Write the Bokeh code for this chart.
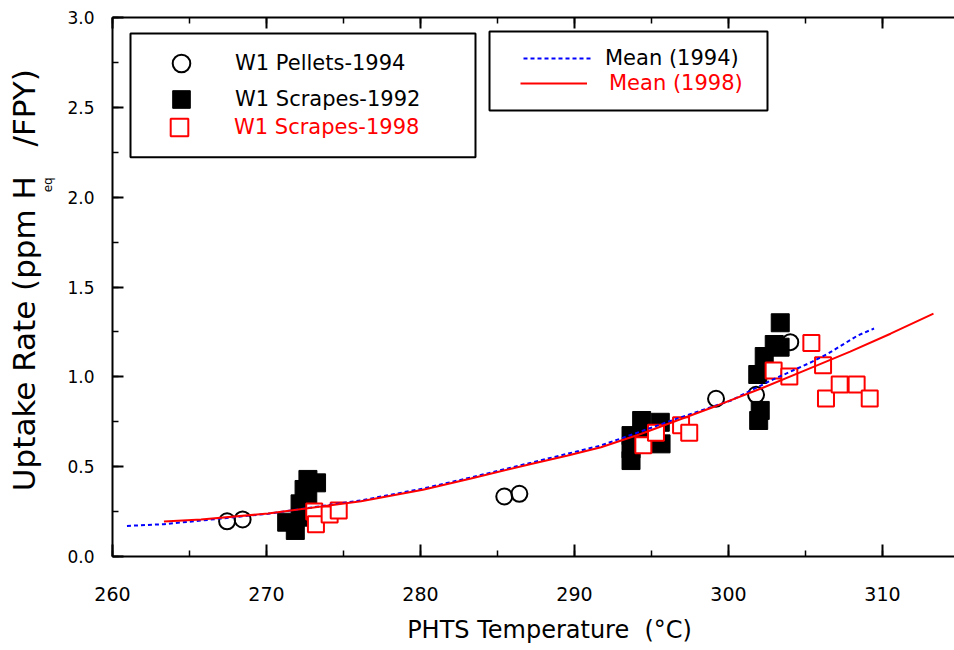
from bokeh.plotting import figure
from bokeh.models import (Range1d, LinearAxis, SingleIntervalTicker, FixedTicker,
                          PrintfTickFormatter, CustomJSTickFormatter,
                          Legend, LegendItem, BoxAnnotation)
from bokeh.embed import file_html
from bokeh.resources import INLINE

# ---------------- data ----------------
pellets_1994_temp = [267.44, 268.45, 285.44, 286.42, 299.19, 301.79, 304.01]
pellets_1994_rate = [0.196, 0.206, 0.334, 0.349, 0.878, 0.900, 1.193]

scrapes_1992_temp = [271.31, 271.87, 272.18, 272.24, 272.44, 272.68, 272.69, 273.25,
                     293.67, 293.67, 293.67, 294.36, 294.75, 295.57, 295.62,
                     301.90, 302.06, 301.96, 302.32, 302.97, 303.35, 303.36]
scrapes_1992_rate = [0.191, 0.145, 0.293, 0.219, 0.373, 0.312, 0.429, 0.410,
                     0.534, 0.599, 0.673, 0.757, 0.683, 0.747, 0.627,
                     1.013, 0.813, 0.757, 1.113, 1.180, 1.165, 1.301]

scrapes_1998_temp = [273.10, 273.21, 274.10, 274.69, 294.47, 295.29, 296.92, 297.45,
                     302.93, 303.95, 305.38, 306.14, 306.33, 307.22, 308.32, 309.17]
scrapes_1998_rate = [0.250, 0.180, 0.234, 0.256, 0.619, 0.689, 0.731, 0.689,
                     1.035, 1.002, 1.189, 1.065, 0.879, 0.957, 0.957, 0.879]

mean_1994_temp = [260.94, 263.34, 265.75, 270.10, 276.14, 280.16, 283.28, 287.18,
                  291.72, 296.92, 300.16, 302.76, 305.36, 306.44, 308.39, 309.45]
mean_1994_rate = [0.170, 0.180, 0.200, 0.238, 0.312, 0.378, 0.440, 0.522,
                  0.618, 0.775, 0.868, 0.980, 1.081, 1.128, 1.230, 1.269]

mean_1998_temp = [263.34, 265.75, 270.10, 276.14, 280.16, 283.28, 287.18, 289.50,
                  291.72, 294.30, 296.92, 299.20, 302.11, 305.36, 307.90, 310.52, 313.31]
mean_1998_rate = [0.195, 0.206, 0.239, 0.308, 0.372, 0.434, 0.515, 0.561,
                  0.608, 0.682, 0.765, 0.838, 0.935, 1.050, 1.140, 1.240, 1.352]

x_tick_interval = 10
y_tick_interval = 0.5

x_title = "PHTS Temperature\u00a0 (°C)"
y_title = "Uptake Rate (ppm H\u00a0\u00a0\u00a0/FPY)"
y_title_sub = "eq"

FONT = "DejaVu Sans"
RED = "#ff0000"
BLUE = "#0000ff"

p = figure(width=954, height=650, output_backend="svg", toolbar_location=None,
           x_range=Range1d(260, 314.675), y_range=Range1d(0, 3),
           x_axis_type=None, y_axis_type=None,
           min_border_left=112, min_border_right=0, min_border_top=17, min_border_bottom=94)
p.outline_line_color = None
p.background_fill_color = "white"
p.border_fill_color = "white"


def style_axis(ax, tin, mtin):
    ax.axis_line_width = 2
    ax.axis_line_color = "black"
    ax.major_tick_in = tin
    ax.major_tick_out = 0
    ax.minor_tick_in = mtin
    ax.minor_tick_out = 0
    ax.major_tick_line_width = 2
    ax.minor_tick_line_width = 1.5
    ax.major_tick_line_color = "black"
    ax.minor_tick_line_color = "black"
    ax.major_label_text_font = FONT
    ax.major_label_text_color = "black"


def text_only_axis(ax, size, standoff):
    ax.axis_line_color = None
    ax.major_tick_line_color = None
    ax.minor_tick_line_color = None
    ax.major_tick_in = 0
    ax.major_tick_out = 0
    ax.minor_tick_in = 0
    ax.minor_tick_out = 0
    ax.major_label_text_font = FONT
    ax.major_label_text_font_size = size
    ax.major_label_text_color = "black"
    ax.major_label_standoff = standoff


# bottom axis (ticks + numbers)
bottom = LinearAxis(ticker=SingleIntervalTicker(interval=x_tick_interval, num_minor_ticks=2),
                    formatter=PrintfTickFormatter(format="%d"))
style_axis(bottom, 12, 6)
bottom.major_label_text_font_size = "19px"
bottom.major_label_standoff = 30
p.add_layout(bottom, "below")

# x-axis title (placed as a single label below the numbers)
xt_axis = LinearAxis(ticker=FixedTicker(ticks=[288.38], minor_ticks=[]),
                     formatter=CustomJSTickFormatter(code="return %r" % x_title))
text_only_axis(xt_axis, "24px", 12)
p.add_layout(xt_axis, "below")

# left axis (ticks + numbers)
left = LinearAxis(ticker=SingleIntervalTicker(interval=y_tick_interval, num_minor_ticks=2),
                  formatter=PrintfTickFormatter(format="%.1f"))
style_axis(left, 11, 6)
left.major_label_text_font_size = "17px"
left.major_label_standoff = 18
p.add_layout(left, "left")

# y-axis title subscript and title
sub_axis = LinearAxis(ticker=FixedTicker(ticks=[2.069], minor_ticks=[]),
                      formatter=CustomJSTickFormatter(code="return %r" % y_title_sub))
text_only_axis(sub_axis, "12px", 9)
sub_axis.major_label_orientation = "vertical"
p.add_layout(sub_axis, "left")

yt_axis = LinearAxis(ticker=FixedTicker(ticks=[1.538], minor_ticks=[]),
                     formatter=CustomJSTickFormatter(code="return %r" % y_title))
text_only_axis(yt_axis, "31px", -4)
yt_axis.major_label_orientation = "vertical"
p.add_layout(yt_axis, "left")

# top frame line with inward ticks, no numbers
top = LinearAxis(ticker=SingleIntervalTicker(interval=x_tick_interval, num_minor_ticks=2))
style_axis(top, 11, 6)
top.major_label_text_font_size = "0px"
top.major_label_text_alpha = 0
top.major_label_standoff = 0
p.add_layout(top, "above")

# ---------------- marks ----------------
r92 = p.scatter(scrapes_1992_temp, scrapes_1992_rate, marker="square", size=18,
                fill_color="black", line_color="black", line_width=1)
r98 = p.scatter(scrapes_1998_temp, scrapes_1998_rate, marker="square", size=16,
                fill_color="white", line_color=RED, line_width=2)
r94 = p.scatter(pellets_1994_temp, pellets_1994_rate, marker="circle", size=16,
                fill_alpha=0, line_color="black", line_width=2)
m94 = p.line(mean_1994_temp, mean_1994_rate, line_color=BLUE, line_width=2, line_dash="4 3")
m98 = p.line(mean_1998_temp, mean_1998_rate, line_color=RED, line_width=2)


# ---------------- legends ----------------
def row_legend(label, rend, loc, gw, gh, standoff, color):
    lg = Legend(items=[LegendItem(label=label, renderers=[rend])], location=loc,
                glyph_width=gw, glyph_height=gh, label_standoff=standoff,
                padding=0, margin=0, spacing=0,
                border_line_color=None, background_fill_alpha=0,
                label_text_font=FONT, label_text_font_size="21px", label_text_color=color)
    p.add_layout(lg, "center")


row_legend("W1 Pellets-1994", r94, (47, 471), 44, 44, 32, "black")
row_legend("W1 Scrapes-1992", r92, (47, 435), 44, 44, 32, "black")
row_legend("W1 Scrapes-1998", r98, (45, 407), 44, 44, 33, RED)
row_legend("Mean (1994)", m94, (411, 485), 68, 26, 14, "black")
row_legend("Mean (1998)", m98, (408, 460), 67, 26, 22, RED)

p.add_layout(BoxAnnotation(left=261.169, right=283.571, bottom=2.2224, top=2.911,
                           fill_alpha=0, line_color="black", line_width=2, line_alpha=1))
p.add_layout(BoxAnnotation(left=284.481, right=302.532, bottom=2.482, top=2.922,
                           fill_alpha=0, line_color="black", line_width=2, line_alpha=1))

open("out.html", "w").write(file_html(p, INLINE))
